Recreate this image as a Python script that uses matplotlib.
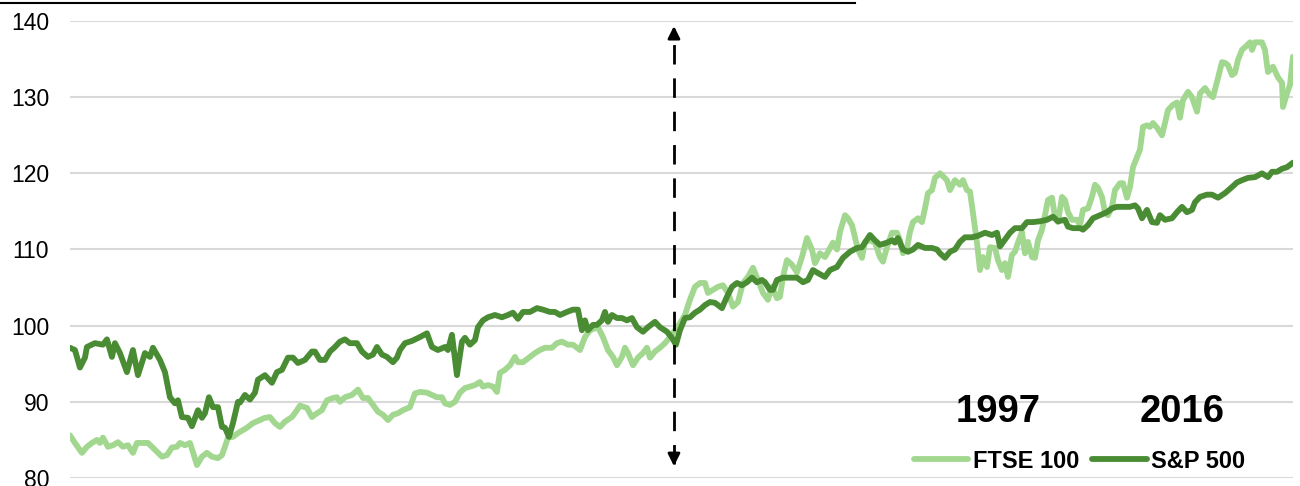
import matplotlib
matplotlib.use("Agg")
import matplotlib.pyplot as plt
from matplotlib.lines import Line2D

plt.rcParams['font.family'] = ['Liberation Sans', 'DejaVu Sans']

# series, x = period index along the (hidden) time axis
sp_t = [0, 5, 10, 15, 17, 25, 33, 37, 42, 45, 50, 57, 63, 68, 75, 80, 83, 90, 95, 100,
        105, 108, 112, 118, 122, 128, 132, 135, 139, 143, 148, 152, 155, 159, 163, 168, 170, 175, 180, 185,
        188, 195, 202, 207, 212, 218, 223, 228, 235, 242, 245, 250, 255, 260, 265, 270, 275, 280, 287, 292,
        298, 303, 307, 312, 317, 323, 327, 330, 335, 342, 350, 357, 362, 368, 375, 378, 382, 387, 392, 395,
        400, 405, 408, 413, 418, 425, 432, 438, 443, 448, 453, 460, 467, 473, 480, 485, 490, 497, 503, 508,
        512, 515, 518, 523, 527, 532, 535, 538, 542, 547, 552, 557, 562, 567, 573, 578, 585, 590, 597, 602,
        606, 610, 615, 620, 625, 630, 635, 640, 645, 652, 657, 662, 667, 672, 677, 682, 687, 692, 695, 700,
        703, 707, 713, 720, 727, 733, 738, 743, 748, 755, 760, 767, 773, 780, 787, 792, 795, 800, 805, 810,
        817, 822, 825, 828, 833, 838, 843, 848, 855, 862, 867, 870, 875, 880, 885, 890, 895, 902, 908, 915,
        922, 927, 930, 935, 940, 945, 952, 957, 963, 970, 977, 983, 988, 995, 998, 1003, 1010, 1013, 1018, 1023,
        1030, 1037, 1042, 1047, 1052, 1060, 1065, 1068, 1072, 1077, 1082, 1087, 1090, 1095, 1102, 1107, 1112, 1117, 1122, 1125,
        1130, 1137, 1142, 1148, 1155, 1162, 1167, 1172, 1178, 1185, 1192, 1198, 1202, 1207, 1212, 1217, 1223]
sp500 = [97.1, 96.8, 94.5, 95.8, 97.2, 97.7, 97.5, 98.2, 95.9, 97.7, 96.4, 93.9, 96.8, 93.5, 96.4, 95.9, 97.1, 95.5, 93.9, 90.6,
         89.8, 90.2, 88.0, 87.9, 86.8, 88.9, 87.9, 88.5, 90.6, 89.3, 89.3, 86.7, 86.6, 85.4, 87.2, 90.0, 89.9, 90.9, 90.3, 91.2,
         92.9, 93.5, 92.5, 93.9, 94.2, 95.8, 95.8, 95.1, 95.5, 96.6, 96.6, 95.5, 95.5, 96.6, 97.2, 97.9, 98.2, 97.7, 97.7, 96.6,
         95.9, 96.2, 97.2, 96.2, 95.9, 95.2, 95.8, 96.8, 97.7, 98.0, 98.5, 99.0, 97.2, 96.8, 97.2, 96.8, 98.8, 93.5, 97.9, 98.4,
         97.5, 98.1, 99.8, 100.7, 101.1, 101.4, 101.1, 101.4, 101.7, 100.9, 101.8, 101.8, 102.3, 102.1, 101.8, 101.8, 101.4, 101.8, 102.1, 102.1,
         99.4, 100.7, 99.4, 100.1, 100.1, 100.7, 101.8, 100.5, 101.4, 101.0, 101.0, 100.7, 101.0, 99.8, 99.2, 99.8, 100.5, 99.8, 99.2, 98.4,
         97.5, 99.4, 101.0, 101.1, 101.7, 102.1, 102.7, 103.1, 103.0, 102.3, 103.8, 105.1, 105.6, 105.3, 105.7, 106.3, 105.7, 106.0, 105.7, 104.7,
         104.7, 106.0, 106.3, 106.3, 106.3, 105.7, 106.0, 107.3, 106.9, 106.4, 107.3, 107.7, 108.9, 109.7, 110.2, 110.3, 110.9, 111.9, 111.2, 110.6,
         110.9, 111.2, 110.9, 111.5, 110.0, 109.7, 110.0, 110.6, 110.2, 110.2, 110.0, 109.5, 108.9, 109.7, 110.0, 111.0, 111.6, 111.6, 111.8, 112.2,
         111.9, 112.2, 110.4, 111.3, 112.2, 112.8, 112.8, 113.6, 113.6, 113.7, 113.9, 114.3, 113.7, 113.9, 113.0, 112.8, 112.8, 112.6, 113.2, 114.1,
         114.5, 114.9, 115.4, 115.6, 115.6, 115.6, 115.8, 115.4, 114.1, 115.2, 113.6, 113.5, 114.5, 113.9, 114.1, 114.9, 115.6, 114.9, 115.2, 116.2,
         116.9, 117.2, 117.2, 116.8, 117.4, 118.2, 118.8, 119.1, 119.4, 119.5, 120.0, 119.5, 120.2, 120.2, 120.6, 120.8, 121.4]

ftse_t = [0, 5, 12, 17, 22, 27, 30, 33, 38, 43, 48, 53, 58, 63, 67, 73, 78, 85, 92, 97,
          102, 107, 110, 115, 120, 123, 127, 132, 137, 142, 148, 152, 155, 158, 163, 168, 177, 183, 190, 195,
          200, 205, 210, 215, 222, 227, 230, 237, 242, 247, 252, 257, 263, 267, 270, 275, 282, 288, 293, 298,
          303, 308, 313, 318, 323, 328, 333, 340, 345, 350, 357, 362, 367, 372, 375, 380, 385, 390, 395, 400,
          405, 410, 413, 418, 423, 427, 430, 435, 440, 445, 448, 453, 460, 465, 470, 475, 482, 487, 492, 498,
          503, 510, 515, 520, 528, 533, 538, 543, 547, 552, 555, 558, 563, 568, 573, 577, 580, 585, 590, 595,
          600, 605, 610, 615, 620, 625, 630, 635, 638, 643, 648, 653, 658, 663, 668, 673, 678, 683, 688, 693,
          698, 702, 707, 710, 713, 717, 722, 727, 732, 737, 742, 745, 750, 755, 760, 763, 767, 770, 775, 778,
          782, 785, 788, 792, 795, 800, 805, 810, 813, 817, 822, 827, 830, 833, 837, 840, 843, 848, 852, 855,
          858, 862, 865, 870, 877, 880, 885, 890, 893, 897, 900, 903, 907, 910, 913, 917, 920, 925, 928, 932,
          935, 938, 942, 945, 948, 952, 955, 958, 962, 965, 968, 972, 975, 978, 982, 985, 988, 992, 995, 998,
          1002, 1007, 1010, 1013, 1018, 1022, 1025, 1028, 1032, 1035, 1038, 1042, 1045, 1050, 1053, 1057, 1060, 1063, 1067, 1070,
          1073, 1077, 1080, 1083, 1087, 1092, 1095, 1098, 1103, 1107, 1110, 1113, 1118, 1122, 1127, 1130, 1135, 1140, 1143, 1147,
          1152, 1155, 1158, 1162, 1165, 1168, 1172, 1177, 1180, 1182, 1185, 1192, 1195, 1198, 1203, 1208, 1212, 1213, 1217, 1220, 1223]
ftse100 = [85.6, 84.6, 83.3, 84.1, 84.6, 85.0, 84.6, 85.3, 84.1, 84.3, 84.7, 84.1, 84.3, 83.3, 84.6, 84.6, 84.6, 83.7, 82.8, 83.0,
           84.0, 84.1, 84.6, 84.3, 84.6, 83.4, 81.7, 82.8, 83.3, 82.8, 82.6, 83.0, 84.1, 85.3, 85.4, 85.9, 86.6, 87.2, 87.6, 87.9,
           88.0, 87.2, 86.7, 87.4, 88.0, 88.9, 89.5, 89.2, 88.0, 88.5, 88.9, 90.2, 90.5, 90.6, 90.0, 90.6, 90.9, 91.6, 90.5, 90.5,
           89.6, 88.7, 88.3, 87.6, 88.3, 88.5, 88.9, 89.3, 91.1, 91.3, 91.2, 90.9, 90.6, 90.6, 89.8, 89.6, 90.0, 91.2, 91.8, 92.0,
           92.2, 92.6, 92.0, 92.2, 92.0, 91.3, 93.8, 94.2, 94.8, 95.9, 95.2, 95.2, 95.9, 96.4, 96.8, 97.1, 97.1, 97.7, 97.9, 97.5,
           97.5, 96.8, 98.5, 99.4, 99.8, 98.5, 96.8, 95.9, 94.8, 95.9, 97.1, 96.4, 94.8, 95.8, 96.4, 97.1, 95.8, 96.6, 97.1, 97.7,
           98.5, 99.4, 100.3, 101.4, 103.4, 105.1, 105.6, 105.6, 104.3, 104.7, 105.1, 105.3, 104.3, 102.5, 103.1, 105.6, 106.4, 107.6, 106.0, 104.3,
           103.4, 105.1, 103.6, 103.8, 106.4, 108.6, 108.0, 107.0, 109.0, 111.5, 110.0, 108.2, 109.5, 109.0, 110.2, 110.9, 110.0, 112.3, 114.5, 114.1,
           113.2, 111.6, 110.0, 108.9, 111.0, 111.2, 110.9, 109.0, 108.4, 110.3, 112.2, 112.2, 111.2, 109.5, 110.2, 112.3, 113.6, 114.1, 113.6, 115.4,
           117.4, 117.8, 119.4, 120.0, 119.1, 117.8, 119.1, 118.5, 119.1, 117.8, 117.6, 114.8, 110.9, 107.3, 109.0, 107.7, 110.3, 110.2, 108.6, 107.3,
           108.2, 106.4, 109.3, 109.7, 110.9, 112.3, 109.5, 111.0, 109.0, 108.9, 111.2, 112.6, 114.5, 116.5, 116.8, 114.3, 113.6, 116.9, 116.5, 114.9,
           113.9, 113.9, 113.2, 115.2, 115.4, 116.9, 118.5, 118.1, 116.9, 114.9, 114.5, 115.6, 117.8, 118.7, 118.7, 116.8, 118.2, 120.8, 122.1, 123.1,
           126.1, 126.3, 126.1, 126.6, 126.0, 125.0, 126.6, 128.3, 129.0, 129.3, 127.3, 129.6, 130.7, 130.0, 128.1, 130.5, 131.2, 130.3, 130.0, 132.0,
           134.6, 134.5, 134.2, 132.9, 133.2, 134.9, 136.2, 136.8, 137.2, 136.2, 137.2, 137.2, 136.2, 133.3, 134.0, 132.6, 131.9, 128.7, 130.5, 131.6, 135.3]

y_ticks = [80, 90, 100, 110, 120, 130, 140]
split_t = 604
year_labels = ["1997", "2016"]

light = "#A2D78F"
dark = "#4A8C33"

fig = plt.figure(figsize=(13, 4.86), dpi=100)
ax = fig.add_axes([0.0538, 0.0165, 0.9408, 0.9403])

ax.plot(ftse_t, ftse100, color=light, lw=4.2, solid_capstyle='round', solid_joinstyle='round', label="FTSE 100")
ax.plot(sp_t, sp500, color=dark, lw=4.2, solid_capstyle='round', solid_joinstyle='round', label="S&P 500")

ax.set_xlim(0, 1223)
ax.set_ylim(80, 140)
ax.set_yticks(y_ticks)
ax.set_xticks([])
ax.tick_params(axis='y', length=0, pad=15, labelsize=16.5)
ax.grid(axis='y', color="#D9D9D9", lw=1.5)
ax.set_axisbelow(True)
for s in ax.spines.values():
    s.set_visible(False)

# dashed divider with arrow heads at both ends
ax.plot([split_t, split_t], [81.8, 139.0], color="black", lw=2, dashes=(7, 5), zorder=5)
ax.annotate("", xy=(split_t, 139.7), xytext=(split_t, 137.5),
            arrowprops=dict(arrowstyle='-|>', color='black', lw=2, mutation_scale=18), zorder=6)
ax.annotate("", xy=(split_t, 81.2), xytext=(split_t, 83.3),
            arrowprops=dict(arrowstyle='-|>', color='black', lw=2, mutation_scale=18), zorder=6)

ax.text(0.759, 0.145, year_labels[0], transform=ax.transAxes, ha='center', va='center',
        fontsize=27.5, fontweight='bold')
ax.text(0.909, 0.145, year_labels[1], transform=ax.transAxes, ha='center', va='center',
        fontsize=27.5, fontweight='bold')

ax.legend(loc='center right', bbox_to_anchor=(0.969, 0.037), ncol=2, frameon=False,
          prop={'size': 17, 'weight': 'bold'}, handlelength=2.3, handletextpad=0.2,
          columnspacing=0.55, borderaxespad=0)

# underline of the cropped title at the very top
fig.add_artist(Line2D([0, 0.658], [0.993, 0.993], color='black', lw=1.5, transform=fig.transFigure))

fig.savefig("out.png", dpi=100)
